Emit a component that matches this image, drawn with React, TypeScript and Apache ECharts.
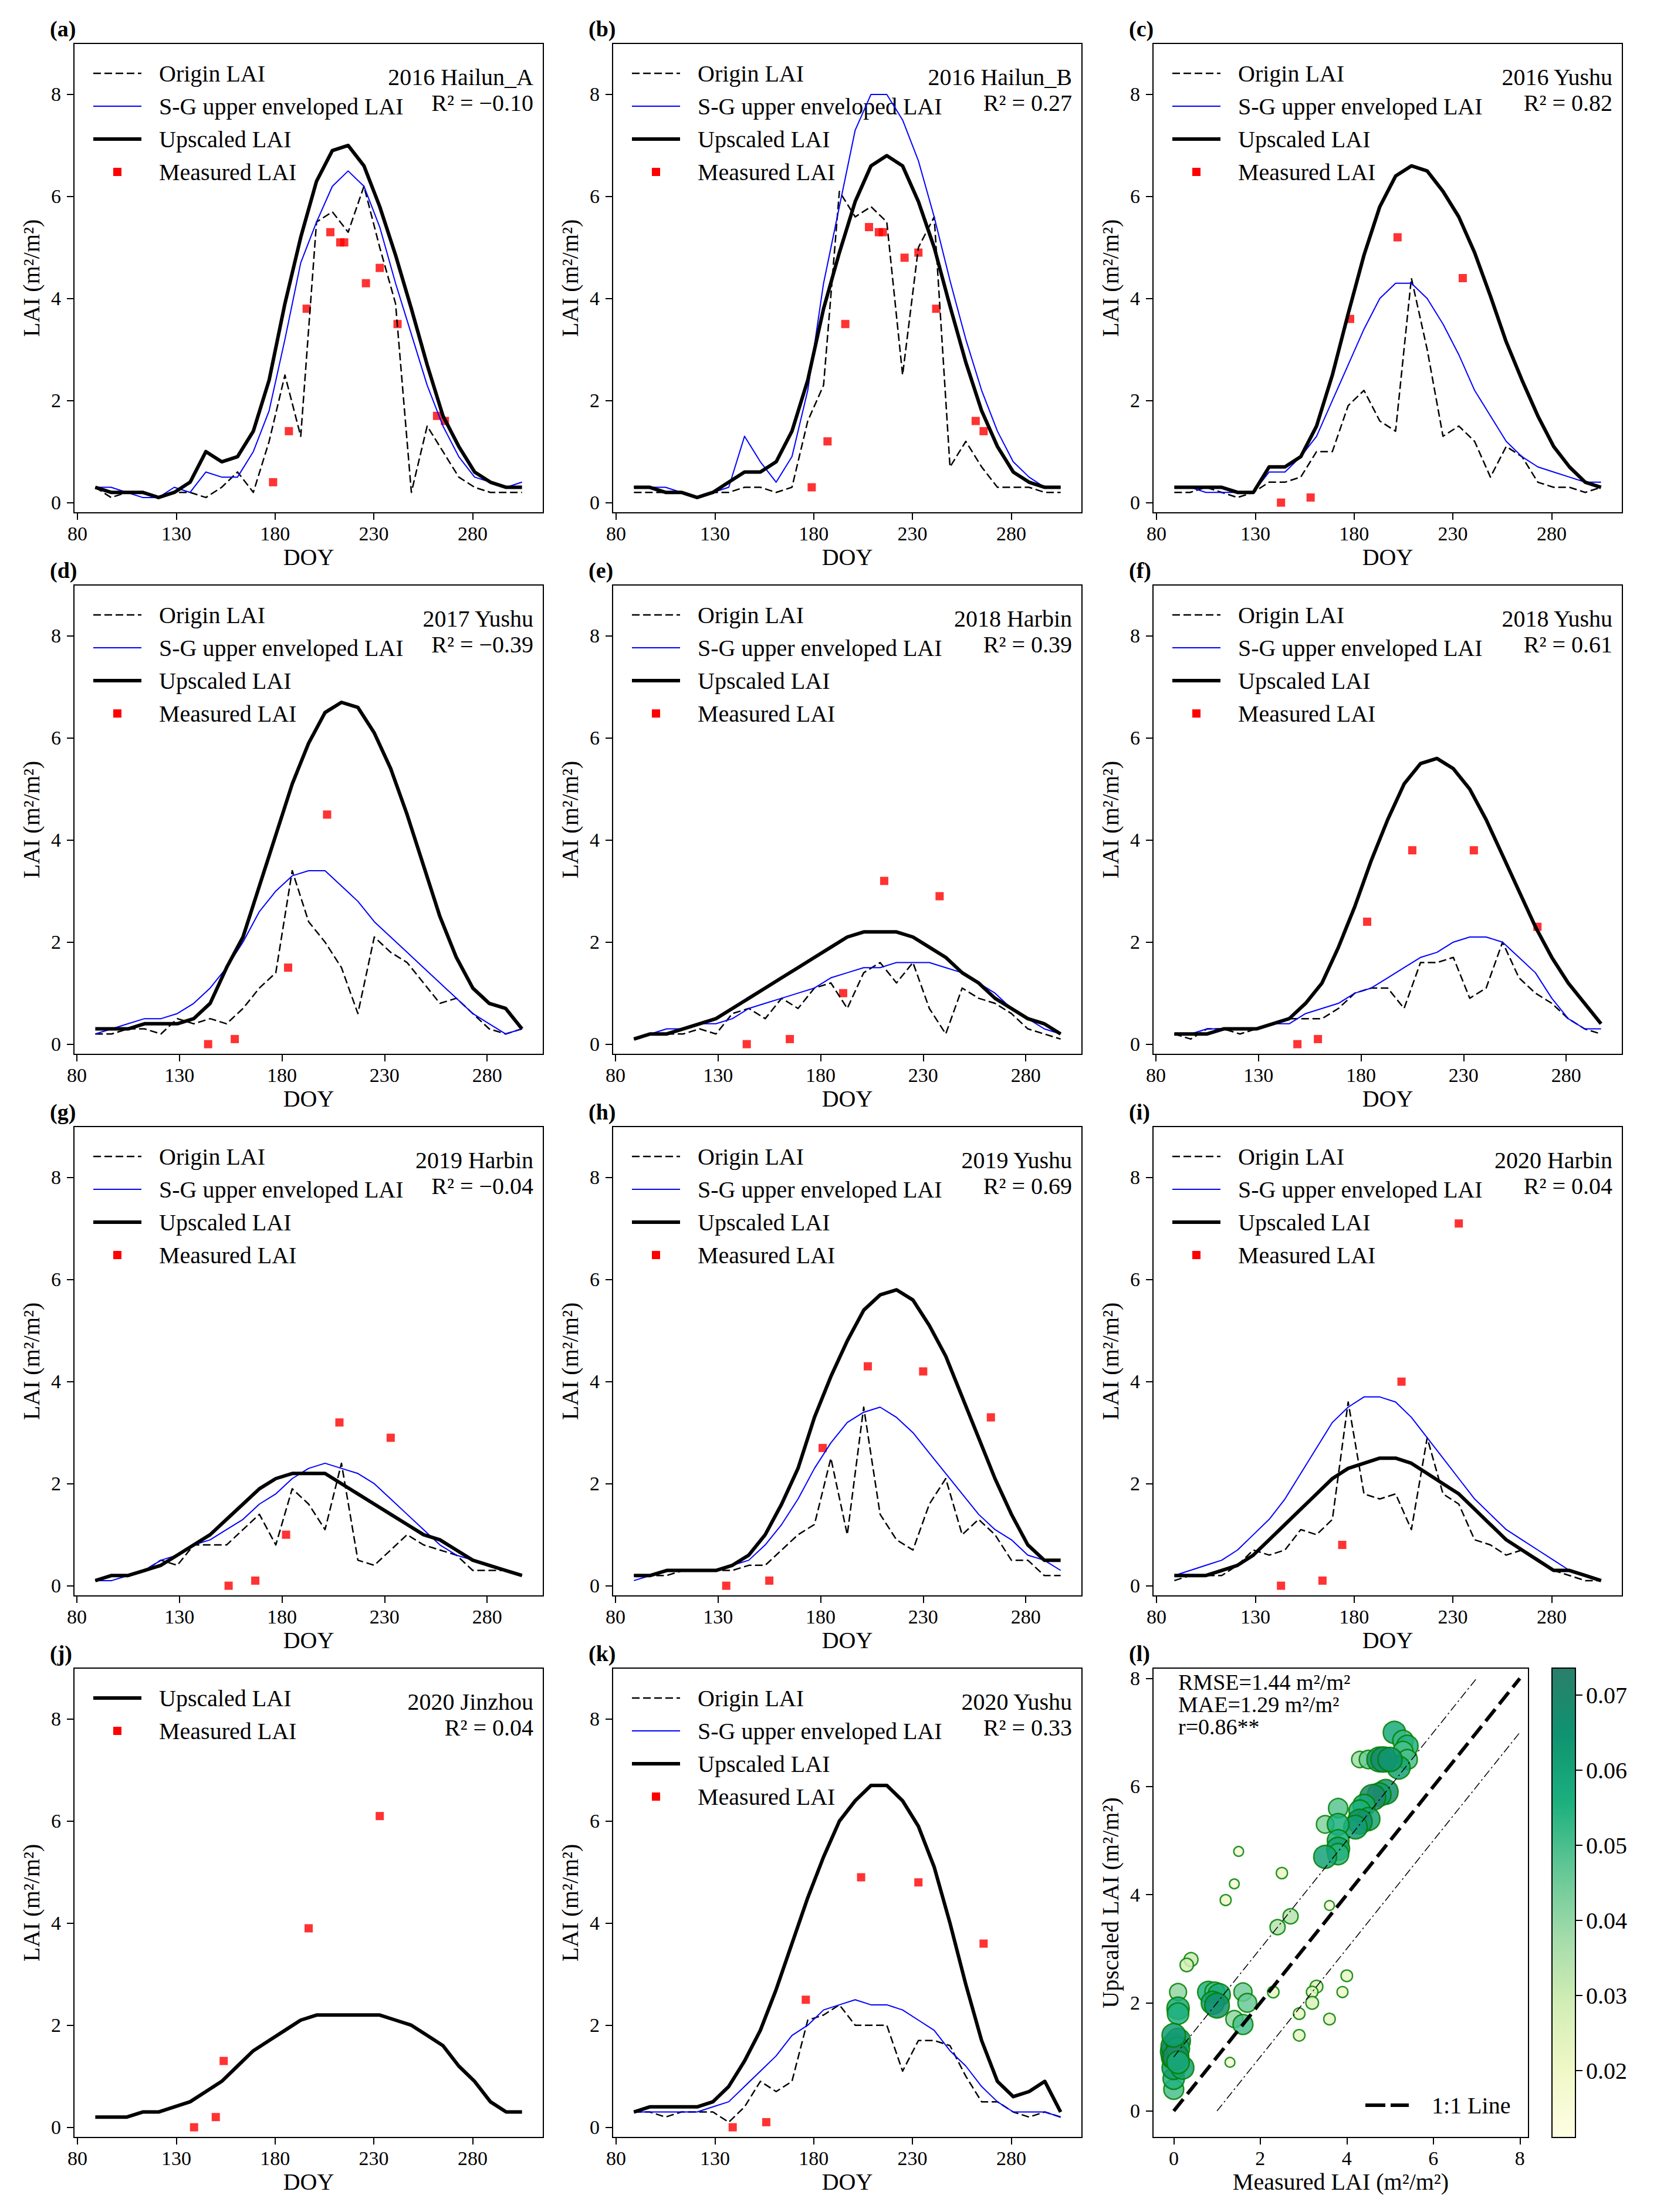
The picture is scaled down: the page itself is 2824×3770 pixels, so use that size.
import React, { useEffect, useRef } from "react";
import * as echarts from "echarts";

// ---------- shared axes ----------
const FONT = "Liberation Serif";
const DOY_LONG = [89, 97, 105, 113, 121, 129, 137, 145, 153, 161, 169, 177, 185, 193, 201, 209, 217, 225, 233, 241, 249, 257, 265, 273, 281, 289, 297, 305];
const DOY_SHORT = [89, 97, 105, 113, 121, 129, 137, 145, 153, 161, 169, 177, 185, 193, 201, 209, 217, 225, 233, 241, 249, 257, 265, 273, 281, 289, 297];
const DOY_TICKS = [80, 130, 180, 230, 280];
const LAI_TICKS = [0, 2, 4, 6, 8];
const LAI_MIN = -0.2;
const LAI_MAX = 9.0;

// ---------- (a) 2016 Hailun_A ----------
const aOrigin = [0.3, 0.1, 0.2, 0.2, 0.1, 0.2, 0.2, 0.1, 0.3, 0.6, 0.2, 1.2, 2.5, 1.3, 5.5, 5.7, 5.3, 6.2, 5.0, 3.9, 0.2, 1.5, 1.0, 0.5, 0.3, 0.2, 0.2, 0.2];
const aSG = [0.3, 0.3, 0.2, 0.1, 0.1, 0.3, 0.2, 0.6, 0.5, 0.5, 1.0, 1.8, 3.2, 4.7, 5.5, 6.2, 6.5, 6.2, 5.4, 4.3, 3.3, 2.3, 1.5, 0.9, 0.5, 0.4, 0.3, 0.4];
const aUp = [0.3, 0.2, 0.2, 0.2, 0.1, 0.2, 0.4, 1.0, 0.8, 0.9, 1.4, 2.4, 3.9, 5.2, 6.3, 6.9, 7.0, 6.6, 5.8, 4.85, 3.8, 2.7, 1.7, 1.1, 0.6, 0.4, 0.3, 0.3];
const aMeasDoy = [179, 187, 196, 208, 213, 215, 226, 233, 242, 262, 266];
const aMeasLai = [0.4, 1.4, 3.8, 5.3, 5.1, 5.1, 4.3, 4.6, 3.5, 1.7, 1.6];

// ---------- (b) 2016 Hailun_B ----------
const bOrigin = [0.2, 0.2, 0.2, 0.2, 0.1, 0.2, 0.2, 0.3, 0.3, 0.2, 0.3, 1.6, 2.3, 6.1, 5.6, 5.8, 5.5, 2.5, 5.0, 5.6, 0.7, 1.2, 0.7, 0.3, 0.3, 0.3, 0.2, 0.2];
const bSG = [0.3, 0.3, 0.3, 0.2, 0.1, 0.2, 0.3, 1.3, 0.8, 0.4, 0.9, 2.2, 4.3, 5.8, 7.3, 8.0, 8.0, 7.5, 6.7, 5.6, 4.35, 3.2, 2.2, 1.4, 0.8, 0.5, 0.3, 0.3];
const bUp = [0.3, 0.3, 0.2, 0.2, 0.1, 0.2, 0.4, 0.6, 0.6, 0.8, 1.4, 2.4, 3.8, 4.9, 5.9, 6.6, 6.8, 6.6, 5.9, 5.0, 3.85, 2.75, 1.8, 1.1, 0.6, 0.4, 0.3, 0.3];
const bMeasDoy = [179, 187, 196, 208, 213, 215, 226, 233, 242, 262, 266];
const bMeasLai = [0.3, 1.2, 3.5, 5.4, 5.3, 5.3, 4.8, 4.9, 3.8, 1.6, 1.4];

// ---------- (c) 2016 Yushu ----------
const cOrigin = [0.2, 0.2, 0.3, 0.2, 0.1, 0.2, 0.4, 0.4, 0.5, 1.0, 1.0, 1.9, 2.2, 1.6, 1.4, 4.4, 3.0, 1.3, 1.5, 1.2, 0.5, 1.1, 0.9, 0.4, 0.3, 0.3, 0.2, 0.3];
const cSG = [0.3, 0.3, 0.2, 0.2, 0.2, 0.2, 0.6, 0.6, 0.9, 1.3, 2.0, 2.7, 3.4, 4.0, 4.3, 4.3, 4.0, 3.5, 2.9, 2.2, 1.7, 1.2, 0.9, 0.7, 0.6, 0.5, 0.4, 0.4];
const cUp = [0.3, 0.3, 0.3, 0.3, 0.2, 0.2, 0.7, 0.7, 0.9, 1.5, 2.5, 3.7, 4.85, 5.8, 6.4, 6.6, 6.5, 6.1, 5.6, 4.9, 4.05, 3.15, 2.4, 1.7, 1.1, 0.7, 0.4, 0.3];
const cMeasDoy = [143, 158, 178, 202, 235];
const cMeasLai = [0.0, 0.1, 3.6, 5.2, 4.4];

// ---------- (d) 2017 Yushu ----------
const dOrigin = [0.2, 0.2, 0.3, 0.3, 0.2, 0.5, 0.4, 0.5, 0.4, 0.7, 1.1, 1.4, 3.4, 2.4, 2.0, 1.5, 0.6, 2.1, 1.8, 1.6, 1.2, 0.8, 0.9, 0.6, 0.3, 0.2, 0.3];
const dSG = [0.2, 0.3, 0.4, 0.5, 0.5, 0.6, 0.8, 1.1, 1.5, 2.0, 2.6, 3.0, 3.3, 3.4, 3.4, 3.1, 2.8, 2.4, 2.1, 1.8, 1.5, 1.2, 0.9, 0.6, 0.4, 0.2, 0.3];
const dUp = [0.3, 0.3, 0.3, 0.4, 0.4, 0.4, 0.5, 0.8, 1.5, 2.1, 3.1, 4.1, 5.1, 5.9, 6.5, 6.7, 6.6, 6.1, 5.4, 4.5, 3.5, 2.5, 1.7, 1.1, 0.8, 0.7, 0.3];
const dMeasDoy = [144, 157, 183, 202];
const dMeasLai = [0.0, 0.1, 1.5, 4.5];

// ---------- (e) 2018 Harbin ----------
const eOrigin = [0.1, 0.2, 0.2, 0.2, 0.3, 0.2, 0.6, 0.7, 0.5, 0.9, 0.7, 1.1, 1.2, 0.7, 1.4, 1.6, 1.2, 1.6, 0.7, 0.2, 1.1, 0.9, 0.8, 0.6, 0.3, 0.2, 0.1];
const eSG = [0.1, 0.2, 0.3, 0.3, 0.4, 0.4, 0.5, 0.7, 0.8, 0.9, 1.0, 1.1, 1.3, 1.4, 1.5, 1.5, 1.6, 1.6, 1.6, 1.5, 1.4, 1.2, 1.0, 0.7, 0.5, 0.3, 0.2];
const eUp = [0.1, 0.2, 0.2, 0.3, 0.4, 0.5, 0.7, 0.9, 1.1, 1.3, 1.5, 1.7, 1.9, 2.1, 2.2, 2.2, 2.2, 2.1, 1.9, 1.7, 1.4, 1.2, 0.9, 0.7, 0.5, 0.4, 0.2];
const eMeasDoy = [144, 165, 191, 211, 238];
const eMeasLai = [0.0, 0.1, 1.0, 3.2, 2.9];

// ---------- (f) 2018 Yushu ----------
const fOrigin = [0.2, 0.1, 0.3, 0.3, 0.2, 0.3, 0.4, 0.5, 0.5, 0.5, 0.7, 1.0, 1.1, 1.1, 0.7, 1.6, 1.6, 1.7, 0.9, 1.1, 2.0, 1.3, 1.0, 0.8, 0.5, 0.3, 0.2];
const fSG = [0.2, 0.2, 0.3, 0.3, 0.3, 0.3, 0.4, 0.4, 0.6, 0.7, 0.8, 1.0, 1.1, 1.3, 1.5, 1.7, 1.8, 2.0, 2.1, 2.1, 2.0, 1.7, 1.4, 0.9, 0.5, 0.3, 0.3];
const fUp = [0.2, 0.2, 0.2, 0.3, 0.3, 0.3, 0.4, 0.5, 0.8, 1.2, 1.9, 2.7, 3.6, 4.4, 5.1, 5.5, 5.6, 5.4, 5.0, 4.4, 3.7, 3.0, 2.3, 1.7, 1.2, 0.8, 0.4];
const fMeasDoy = [149, 159, 183, 205, 235, 266];
const fMeasLai = [0.0, 0.1, 2.4, 3.8, 3.8, 2.3];

// ---------- (g) 2019 Harbin ----------
const gOrigin = [0.1, 0.2, 0.2, 0.3, 0.5, 0.4, 0.8, 0.8, 0.8, 1.1, 1.4, 0.8, 1.9, 1.6, 1.1, 2.4, 0.5, 0.4, 0.7, 1.0, 0.8, 0.7, 0.6, 0.3, 0.3, 0.3, 0.2];
const gSG = [0.1, 0.1, 0.2, 0.3, 0.5, 0.6, 0.8, 0.9, 1.1, 1.3, 1.6, 1.8, 2.1, 2.3, 2.4, 2.3, 2.2, 2.0, 1.7, 1.4, 1.1, 0.8, 0.6, 0.5, 0.4, 0.3, 0.2];
const gUp = [0.1, 0.2, 0.2, 0.3, 0.4, 0.6, 0.8, 1.0, 1.3, 1.6, 1.9, 2.1, 2.2, 2.2, 2.2, 2.0, 1.8, 1.6, 1.4, 1.2, 1.0, 0.9, 0.7, 0.5, 0.4, 0.3, 0.2];
const gMeasDoy = [154, 167, 182, 208, 233];
const gMeasLai = [0.0, 0.1, 1.0, 3.2, 2.9];

// ---------- (h) 2019 Yushu ----------
const hOrigin = [0.2, 0.2, 0.2, 0.3, 0.3, 0.3, 0.3, 0.4, 0.4, 0.7, 1.0, 1.2, 2.5, 1.0, 3.5, 1.4, 0.9, 0.7, 1.6, 2.1, 1.0, 1.3, 1.0, 0.5, 0.5, 0.2, 0.2];
const hSG = [0.1, 0.2, 0.3, 0.3, 0.3, 0.3, 0.4, 0.5, 0.8, 1.2, 1.7, 2.3, 2.8, 3.2, 3.4, 3.5, 3.3, 3.0, 2.6, 2.2, 1.8, 1.4, 1.1, 0.9, 0.6, 0.5, 0.3];
const hUp = [0.2, 0.2, 0.3, 0.3, 0.3, 0.3, 0.4, 0.6, 1.0, 1.6, 2.3, 3.3, 4.1, 4.8, 5.4, 5.7, 5.8, 5.6, 5.1, 4.5, 3.7, 2.9, 2.1, 1.4, 0.8, 0.5, 0.5];
const hMeasDoy = [134, 155, 181, 203, 230, 263];
const hMeasLai = [0.0, 0.1, 2.7, 4.3, 4.2, 3.3];

// ---------- (i) 2020 Harbin ----------
const iOrigin = [0.1, 0.2, 0.2, 0.2, 0.4, 0.7, 0.6, 0.7, 1.1, 1.0, 1.3, 3.6, 1.8, 1.7, 1.8, 1.1, 2.9, 1.8, 1.6, 0.9, 0.8, 0.6, 0.7, 0.5, 0.3, 0.2, 0.1, 0.1];
const iSG = [0.2, 0.3, 0.4, 0.5, 0.7, 1.0, 1.3, 1.7, 2.2, 2.7, 3.2, 3.5, 3.7, 3.7, 3.6, 3.3, 2.9, 2.5, 2.1, 1.7, 1.4, 1.1, 0.9, 0.7, 0.5, 0.3, 0.2, 0.1];
const iUp = [0.2, 0.2, 0.2, 0.3, 0.4, 0.6, 0.9, 1.2, 1.5, 1.8, 2.1, 2.3, 2.4, 2.5, 2.5, 2.4, 2.2, 2.0, 1.8, 1.5, 1.2, 0.9, 0.7, 0.5, 0.3, 0.3, 0.2, 0.1];
const iMeasDoy = [143, 164, 174, 204, 233];
const iMeasLai = [0.0, 0.1, 0.8, 4.0, 7.1];

// ---------- (j) 2020 Jinzhou ----------
const jUp = [0.2, 0.2, 0.2, 0.3, 0.3, 0.4, 0.5, 0.7, 0.9, 1.2, 1.5, 1.7, 1.9, 2.1, 2.2, 2.2, 2.2, 2.2, 2.2, 2.1, 2.0, 1.8, 1.6, 1.2, 0.9, 0.5, 0.3, 0.3];
const jMeasDoy = [139, 150, 154, 197, 233];
const jMeasLai = [0.0, 0.2, 1.3, 3.9, 6.1];

// ---------- (k) 2020 Yushu ----------
const kOrigin = [0.3, 0.3, 0.2, 0.3, 0.3, 0.3, 0.1, 0.4, 0.9, 0.7, 0.9, 2.1, 2.2, 2.4, 2.0, 2.0, 2.0, 1.1, 1.7, 1.7, 1.6, 1.0, 0.5, 0.5, 0.3, 0.2, 0.3, 0.2];
const kSG = [0.3, 0.3, 0.3, 0.3, 0.3, 0.4, 0.5, 0.8, 1.1, 1.4, 1.8, 2.0, 2.3, 2.4, 2.5, 2.4, 2.4, 2.3, 2.1, 1.9, 1.5, 1.2, 0.8, 0.5, 0.3, 0.3, 0.3, 0.2];
const kUp = [0.3, 0.4, 0.4, 0.4, 0.4, 0.5, 0.8, 1.3, 1.9, 2.7, 3.6, 4.5, 5.3, 6.0, 6.4, 6.7, 6.7, 6.4, 5.9, 5.1, 4.0, 2.8, 1.7, 0.9, 0.6, 0.7, 0.9, 0.3];
const kMeasDoy = [139, 156, 176, 204, 233, 266];
const kMeasLai = [0.0, 0.1, 2.5, 4.9, 4.8, 3.6];

// ---------- (l) measured vs upscaled, coloured by density ----------
const lMeasured = [5.1, 5.3, 5.4, 5.3, 5.4, 5.2, 4.3, 4.5, 4.75, 4.85, 5.0, 4.9, 4.75, 4.6, 4.4, 4.3, 4.5, 4.3, 4.2, 3.8, 3.5, 3.8, 3.8, 3.8, 3.8, 3.5, 1.5, 2.5, 1.4, 1.2, 3.6, 2.7, 2.4, 0.4, 0.3, 0.1, 0.1, 0.1, 0.8, 0.95, 1.05, 0.9, 1.0, 1.6, 1.7, 1.4, 1.6, 2.3, 3.3, 3.2, 3.2, 2.9, 2.9, 3.6, 3.9, 4.0, 1.3, 0.0, 0.0, 0.0, 0.2, 0.0, 0.0, 0.0, 0.1, 0.1, 0.05, 0.0, 0.1];
const lUpscaled = [7.0, 6.85, 6.75, 6.65, 6.5, 6.35, 6.5, 6.5, 6.5, 6.5, 6.5, 5.9, 5.85, 5.8, 5.65, 5.55, 5.4, 5.35, 5.25, 5.6, 5.3, 5.3, 5.0, 4.85, 4.75, 4.7, 4.8, 4.4, 4.2, 3.9, 3.8, 3.6, 3.4, 2.8, 2.7, 2.2, 1.9, 1.8, 2.2, 2.2, 2.15, 2.0, 1.95, 2.2, 2.0, 1.7, 1.6, 2.2, 2.3, 2.2, 2.0, 1.8, 1.4, 1.7, 2.2, 2.5, 0.9, 0.4, 0.6, 0.8, 0.8, 1.0, 1.1, 1.2, 1.3, 1.15, 1.0, 1.4, 0.9];
const lDensity = [0.058, 0.052, 0.055, 0.05, 0.05, 0.06, 0.038, 0.045, 0.066, 0.068, 0.064, 0.066, 0.062, 0.07, 0.058, 0.056, 0.06, 0.066, 0.062, 0.048, 0.042, 0.056, 0.056, 0.06, 0.054, 0.06, 0.016, 0.021, 0.016, 0.02, 0.016, 0.034, 0.034, 0.03, 0.028, 0.04, 0.058, 0.055, 0.055, 0.05, 0.058, 0.06, 0.066, 0.044, 0.046, 0.04, 0.05, 0.022, 0.026, 0.022, 0.026, 0.022, 0.022, 0.022, 0.02, 0.022, 0.016, 0.05, 0.055, 0.062, 0.06, 0.066, 0.072, 0.068, 0.066, 0.06, 0.07, 0.062, 0.058];
const L_TICKS = [0, 2, 4, 6, 8];
const ONE_TO_ONE = [[0, 0], [8, 8]];
const UPPER_BOUND = [[0, 1], [7, 8]];
const LOWER_BOUND = [[1, 0], [8, 7]];
const DENSITY_MIN = 0.0111;
const DENSITY_MAX = 0.0736;
const DENSITY_TICKS = [0.02, 0.03, 0.04, 0.05, 0.06, 0.07];
const STATS = ["RMSE=1.44 m²/m²", "MAE=1.29 m²/m²", "r=0.86**"];
const CMAP = ["#fefee3", "#f0f8c8", "#d2edb5", "#a3dbaa", "#62c795", "#1cb07e", "#0f9370", "#2a7f6a"];

// ---------- panel catalogue ----------
type Panel = {
  tag: string; site: string; r2: string; doy: number[];
  origin: number[] | null; sg: number[] | null; up: number[];
  mDoy: number[]; mLai: number[];
};
const PANELS: Panel[] = [
  { tag: "(a)", site: "2016 Hailun_A", r2: "R² = −0.10", doy: DOY_LONG, origin: aOrigin, sg: aSG, up: aUp, mDoy: aMeasDoy, mLai: aMeasLai },
  { tag: "(b)", site: "2016 Hailun_B", r2: "R² = 0.27", doy: DOY_LONG, origin: bOrigin, sg: bSG, up: bUp, mDoy: bMeasDoy, mLai: bMeasLai },
  { tag: "(c)", site: "2016 Yushu", r2: "R² = 0.82", doy: DOY_LONG, origin: cOrigin, sg: cSG, up: cUp, mDoy: cMeasDoy, mLai: cMeasLai },
  { tag: "(d)", site: "2017 Yushu", r2: "R² = −0.39", doy: DOY_SHORT, origin: dOrigin, sg: dSG, up: dUp, mDoy: dMeasDoy, mLai: dMeasLai },
  { tag: "(e)", site: "2018 Harbin", r2: "R² = 0.39", doy: DOY_SHORT, origin: eOrigin, sg: eSG, up: eUp, mDoy: eMeasDoy, mLai: eMeasLai },
  { tag: "(f)", site: "2018 Yushu", r2: "R² = 0.61", doy: DOY_SHORT, origin: fOrigin, sg: fSG, up: fUp, mDoy: fMeasDoy, mLai: fMeasLai },
  { tag: "(g)", site: "2019 Harbin", r2: "R² = −0.04", doy: DOY_SHORT, origin: gOrigin, sg: gSG, up: gUp, mDoy: gMeasDoy, mLai: gMeasLai },
  { tag: "(h)", site: "2019 Yushu", r2: "R² = 0.69", doy: DOY_SHORT, origin: hOrigin, sg: hSG, up: hUp, mDoy: hMeasDoy, mLai: hMeasLai },
  { tag: "(i)", site: "2020 Harbin", r2: "R² = 0.04", doy: DOY_LONG, origin: iOrigin, sg: iSG, up: iUp, mDoy: iMeasDoy, mLai: iMeasLai },
  { tag: "(j)", site: "2020 Jinzhou", r2: "R² = 0.04", doy: DOY_LONG, origin: null, sg: null, up: jUp, mDoy: jMeasDoy, mLai: jMeasLai },
  { tag: "(k)", site: "2020 Yushu", r2: "R² = 0.33", doy: DOY_LONG, origin: kOrigin, sg: kSG, up: kUp, mDoy: kMeasDoy, mLai: kMeasLai },
];

// ---------- layout ----------
const W = 2824;
const H = 3770;
const BOX = 800;
const COL_LEFT = [126, 1044, 1965];
const ROW_TOP = [74, 997, 1920, 2843];
const SCATTER_W = 640;
const CBAR_LEFT = 2645;
const CBAR_W = 40;

const STYLE = {
  origin: { color: "#000000", width: 2.5, dash: [13, 6] as number[] | null },
  sg: { color: "#0000ff", width: 2, dash: null as number[] | null },
  up: { color: "#000000", width: 6, dash: null as number[] | null },
};
const LEGEND_NAMES = {
  origin: "Origin LAI",
  sg: "S-G upper enveloped LAI",
  up: "Upscaled LAI",
  meas: "Measured LAI",
};

const axisCommon = (fontSize: number) => ({
  axisLine: { show: true, onZero: false, lineStyle: { color: "#000", width: 2 } },
  splitLine: { show: false },
  nameTextStyle: { fontSize: 40, color: "#000", fontFamily: FONT },
  axisLabel: { show: true, fontSize, color: "#000", fontFamily: FONT },
});

function textEl(x: number, y: number, text: string, opts: any = {}) {
  return {
    type: "text",
    x,
    y,
    silent: true,
    style: {
      text,
      fill: "#000",
      fontFamily: FONT,
      fontSize: opts.fontSize ?? 40,
      fontWeight: opts.fontWeight ?? "normal",
      align: opts.align ?? "left",
      verticalAlign: "middle",
    },
  };
}

function buildOption() {
  const grid: any[] = [];
  const xAxis: any[] = [];
  const yAxis: any[] = [];
  const series: any[] = [];
  const graphics: any[] = [];

  PANELS.forEach((p, i) => {
    const left = COL_LEFT[i % 3];
    const top = ROW_TOP[Math.floor(i / 3)];
    grid.push({ left, top, width: BOX, height: BOX, show: true, borderColor: "#000", borderWidth: 2 });

    const first = p.doy[0];
    const last = p.doy[p.doy.length - 1];
    const pad = (last - first) * 0.05;
    const ax = axisCommon(34);
    xAxis.push({
      gridIndex: i, type: "value", min: first - pad, max: last + pad,
      ...ax,
      axisTick: { show: true, inside: false, length: 12, lineStyle: { color: "#000", width: 2 }, customValues: DOY_TICKS },
      axisLabel: { ...ax.axisLabel, customValues: DOY_TICKS, margin: 18 },
      name: "DOY", nameLocation: "middle", nameGap: 55,
    });
    yAxis.push({
      gridIndex: i, type: "value", min: LAI_MIN, max: LAI_MAX,
      ...ax,
      axisTick: { show: true, inside: false, length: 12, lineStyle: { color: "#000", width: 2 }, customValues: LAI_TICKS },
      axisLabel: { ...ax.axisLabel, customValues: LAI_TICKS, margin: 22 },
      name: "LAI (m²/m²)", nameLocation: "middle", nameGap: 53, nameRotate: 90,
    });

    const kinds: string[] = [];
    (["origin", "sg", "up"] as const).forEach((k) => {
      const vals = p[k];
      if (!vals) return;
      kinds.push(k);
      const st = STYLE[k];
      series.push({
        type: "line", name: LEGEND_NAMES[k], xAxisIndex: i, yAxisIndex: i,
        data: p.doy.map((d, n) => [d, vals[n]]),
        symbol: "none", silent: true,
        lineStyle: { color: st.color, width: st.width, type: st.dash ?? "solid", join: "round" },
      });
    });
    kinds.push("meas");
    series.push({
      type: "scatter", name: LEGEND_NAMES.meas, xAxisIndex: i, yAxisIndex: i,
      data: p.mDoy.map((d, n) => [d, p.mLai[n]]),
      symbol: "rect", symbolSize: 14, silent: true,
      itemStyle: { color: "#ff0000" },
    });

    // panel tag, site and R² annotations
    graphics.push(textEl(left - 41, top - 25, p.tag, { fontWeight: "bold", fontSize: 38 }));
    graphics.push(textEl(left + BOX - 17, top + 57, p.site, { align: "right" }));
    graphics.push(textEl(left + BOX - 17, top + 101, p.r2, { align: "right" }));

    // legend block
    kinds.forEach((k, n) => {
      const y = top + 51 + n * 56;
      if (k === "meas") {
        graphics.push({ type: "rect", silent: true, shape: { x: left + 74 - 7, y: y - 7, width: 14, height: 14 }, style: { fill: "#ff0000" } });
      } else {
        const st = (STYLE as any)[k];
        graphics.push({
          type: "line", silent: true,
          shape: { x1: left + 33, y1: y, x2: left + 115, y2: y },
          style: { stroke: st.color, lineWidth: st.width, lineDash: st.dash ?? null },
        });
      }
      graphics.push(textEl(left + 145, y, (LEGEND_NAMES as any)[k]));
    });
  });

  // ---------- scatter panel (l) ----------
  const li = PANELS.length;
  const lLeft = COL_LEFT[2];
  const lTop = ROW_TOP[3];
  grid.push({ left: lLeft, top: lTop, width: SCATTER_W, height: BOX, show: true, borderColor: "#000", borderWidth: 2 });
  const lax = axisCommon(34);
  xAxis.push({
    gridIndex: li, type: "value", min: -0.48, max: 8.2, ...lax,
    axisTick: { show: true, inside: false, length: 12, lineStyle: { color: "#000", width: 2 }, customValues: L_TICKS },
    axisLabel: { ...lax.axisLabel, customValues: L_TICKS, margin: 18 },
    name: "Measured LAI (m²/m²)", nameLocation: "middle", nameGap: 55,
  });
  yAxis.push({
    gridIndex: li, type: "value", min: -0.49, max: 8.19, ...lax,
    axisTick: { show: true, inside: false, length: 12, lineStyle: { color: "#000", width: 2 }, customValues: L_TICKS },
    axisLabel: { ...lax.axisLabel, customValues: L_TICKS, margin: 22 },
    name: "Upscaled LAI (m²/m²)", nameLocation: "middle", nameGap: 53, nameRotate: 90,
  });
  const scatterIndex = series.length;
  series.push({
    type: "scatter", name: "Samples", xAxisIndex: li, yAxisIndex: li,
    data: lMeasured.map((m, n) => [m, lUpscaled[n], lDensity[n]]),
    symbol: "circle", silent: true,
    itemStyle: { borderColor: "#008000", borderWidth: 2.5, opacity: 0.85 },
    z: 2,
  });
  series.push({
    type: "line", name: "Upper bound", xAxisIndex: li, yAxisIndex: li, data: UPPER_BOUND,
    symbol: "none", silent: true, lineStyle: { color: "#000", width: 1.5, type: [14, 5, 3, 5] }, z: 3,
  });
  series.push({
    type: "line", name: "Lower bound", xAxisIndex: li, yAxisIndex: li, data: LOWER_BOUND,
    symbol: "none", silent: true, lineStyle: { color: "#000", width: 1.5, type: [14, 5, 3, 5] }, z: 3,
  });
  series.push({
    type: "line", name: "1:1 Line", xAxisIndex: li, yAxisIndex: li, data: ONE_TO_ONE,
    symbol: "none", silent: true, lineStyle: { color: "#000", width: 6, type: [26, 11] }, z: 4,
  });
  STATS.forEach((s, n) => graphics.push(textEl(lLeft + 43, lTop + 24 + n * 38, s, { fontSize: 38 })));
  graphics.push({
    type: "line", silent: true,
    shape: { x1: lLeft + 362, y1: lTop + 745, x2: lLeft + 436, y2: lTop + 745 },
    style: { stroke: "#000", lineWidth: 6, lineDash: [34, 9] },
  });
  graphics.push(textEl(lLeft + 475, lTop + 745, "1:1 Line"));
  graphics.push(textEl(lLeft - 41, lTop - 25, "(l)", { fontWeight: "bold", fontSize: 38 }));

  // ---------- colour bar ----------
  const ci = li + 1;
  grid.push({ left: CBAR_LEFT, top: lTop, width: CBAR_W, height: BOX, show: false });
  xAxis.push({ gridIndex: ci, type: "value", min: 0, max: 1, show: false });
  yAxis.push({
    gridIndex: ci, type: "value", position: "right", min: DENSITY_MIN, max: DENSITY_MAX,
    axisLine: { show: false, onZero: false },
    splitLine: { show: false },
    axisTick: { show: true, inside: false, length: 12, lineStyle: { color: "#000", width: 2 }, customValues: DENSITY_TICKS },
    axisLabel: { show: true, customValues: DENSITY_TICKS, fontSize: 40, color: "#000", fontFamily: FONT, margin: 18, formatter: (v: number) => v.toFixed(2) },
  });
  graphics.unshift({
    type: "rect", silent: true,
    shape: { x: CBAR_LEFT, y: lTop, width: CBAR_W, height: BOX },
    style: {
      fill: new echarts.graphic.LinearGradient(0, 0, 0, 1,
        CMAP.slice().reverse().map((c, n, arr) => ({ offset: n / (arr.length - 1), color: c }))),
      stroke: "#000", lineWidth: 2,
    },
  });

  return {
    animation: false,
    backgroundColor: "#ffffff",
    textStyle: { fontFamily: FONT },
    grid, xAxis, yAxis, series,
    visualMap: [{
      type: "continuous", show: false, seriesIndex: scatterIndex, dimension: 2,
      min: DENSITY_MIN, max: DENSITY_MAX,
      inRange: { color: CMAP, symbolSize: [14, 46] },
    }],
    graphic: { elements: graphics },
  };
}

export default function App() {
  const ref = useRef<HTMLDivElement>(null);
  useEffect(() => {
    document.body.style.margin = "0";
    const chart = echarts.init(ref.current as HTMLDivElement, null, { renderer: "svg" });
    chart.setOption(buildOption() as any);
    return () => chart.dispose();
  }, []);
  return <div ref={ref} style={{ width: W, height: H, background: "#fff" }} />;
}
